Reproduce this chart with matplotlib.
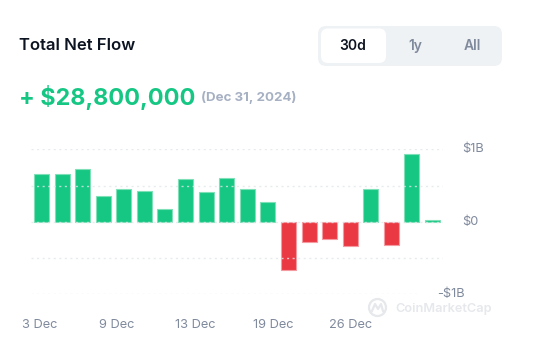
import matplotlib.pyplot as plt
import matplotlib.patches as mpatches
import numpy as np

plt.rcParams['font.family'] = ['Inter', 'DejaVu Sans']

# daily net flow, billions USD (20 trading days)
dates = ['Dec 3', 'Dec 4', 'Dec 5', 'Dec 6', 'Dec 9', 'Dec 10', 'Dec 11', 'Dec 12',
         'Dec 13', 'Dec 16', 'Dec 17', 'Dec 18', 'Dec 19', 'Dec 20', 'Dec 23',
         'Dec 24', 'Dec 26', 'Dec 27', 'Dec 30', 'Dec 31']
flows = [0.662, 0.662, 0.731, 0.352, 0.457, 0.425, 0.183, 0.594, 0.406, 0.607,
         0.457, 0.269, -0.658, -0.283, -0.233, -0.333, 0.457, -0.320, 0.936,
         0.0288]
tick_pos = [-0.07, 3.67, 7.46, 11.25, 15.04]
tick_labels = ['3 Dec', '9 Dec', '13 Dec', '19 Dec', '26 Dec']
grid_levels = [-1, -0.5, 0, 0.5, 1]
y_labels = {1: '$1B', 0: '$0', -1: '-$1B'}

GREEN = '#16c784'
RED = '#ea3943'
GRAY = '#808a9d'

fig = plt.figure(figsize=(5.52, 3.62), dpi=100)

# overlay for header / widgets, pixel coords
ov = fig.add_axes([0, 0, 1, 1])
ov.set_xlim(0, 552)
ov.set_ylim(362, 0)
ov.axis('off')

ov.text(19, 45, 'Total Net Flow', fontsize=12, fontweight='semibold',
        color='#0d1421', va='center', ha='left')
ov.text(19, 97, '+ $28,800,000', fontsize=16.8, fontweight='bold',
        color=GREEN, va='center', ha='left')
ov.text(201, 97, '(Dec 31, 2024)', fontsize=9.6, fontweight='bold',
        color='#a6b0c3', va='center', ha='left')

ov.add_patch(mpatches.FancyBboxPatch((318, 26), 184, 40,
             boxstyle='round,pad=0,rounding_size=8',
             fc='#eff2f5', ec='none'))
ov.add_patch(mpatches.FancyBboxPatch((321, 28.5), 65, 34.5,
             boxstyle='round,pad=0,rounding_size=7',
             fc='white', ec='none'))
ov.text(353, 46, '30d', fontsize=10, fontweight='semibold', color='#0d1421',
        ha='center', va='center')
ov.text(415, 46, '1y', fontsize=10, fontweight='semibold', color='#808a9d',
        ha='center', va='center')
ov.text(472, 46, 'All', fontsize=10, fontweight='semibold', color='#808a9d',
        ha='center', va='center')

# watermark
ov.add_patch(mpatches.Circle((377.5, 307.5), 8.5, fc='none', ec='#e6e8ec', lw=1.6))
ov.plot([372, 375, 378, 381, 383], [311, 304, 309, 304, 311], color='#e6e8ec', lw=1.6)
ov.text(395, 309, 'CoinMarketCap', fontsize=9.2, fontweight='semibold',
        color='#e6e8ec', ha='left', va='center')

# chart
ax = fig.add_axes([31 / 552, 1 - 294.3 / 362, 412 / 552, 145 / 362])
x = np.arange(len(flows))
colors = [GREEN if v >= 0 else RED for v in flows]
edges = ['#7fe0b8' if v >= 0 else '#f49aa0' for v in flows]
ax.bar(x, flows, width=0.73, color=colors, edgecolor=edges, linewidth=0.8, zorder=2)

for lv in grid_levels:
    xmax = 0.939 if lv == -1 else 1.0
    ax.axhline(lv, xmin=0, xmax=xmax, color='#e3e6ea', alpha=0.8, lw=1,
               ls=(0, (1.5, 2.5)), zorder=3)

ax.set_xlim(-0.51, len(flows) - 0.49)
ax.set_ylim(-1, 1)
for s in ax.spines.values():
    s.set_visible(False)
ax.set_yticks([])
ax.set_xticks(tick_pos)
ax.set_xticklabels(tick_labels, fontsize=9.2, color=GRAY)
ax.tick_params(axis='x', length=0, pad=18)

ytr = ax.get_yaxis_transform()
for v, lab in y_labels.items():
    xa = 0.985 if v == -1 else 1.046
    ax.text(xa, v, lab, transform=ytr, fontsize=9.2, color=GRAY,
            ha='left', va='center', clip_on=False)

fig.savefig('out.png', dpi=100)
